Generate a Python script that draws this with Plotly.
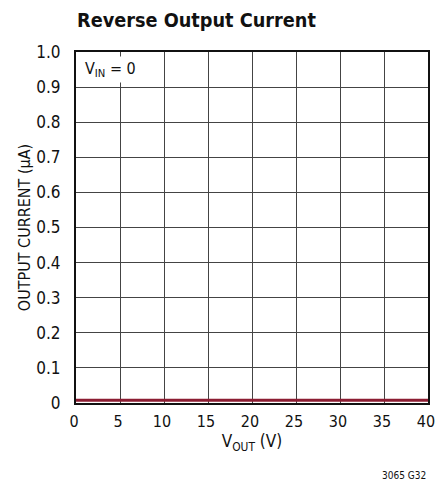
import plotly.graph_objects as go

vout = [0, 5, 10, 15, 20, 25, 30, 35, 40]
current_ua = [0.008, 0.008, 0.008, 0.008, 0.008, 0.008, 0.008, 0.008, 0.008]

x_ticks = [0, 5, 10, 15, 20, 25, 30, 35, 40]
y_ticks = [0, 0.1, 0.2, 0.3, 0.4, 0.5, 0.6, 0.7, 0.8, 0.9, 1.0]
y_ticktext = ["0", "0.1", "0.2", "0.3", "0.4", "0.5", "0.6", "0.7", "0.8", "0.9", "1.0"]

FONT = "DejaVu Sans Condensed, Liberation Sans Narrow, Roboto, sans-serif"

fig = go.Figure()
fig.add_trace(go.Scatter(x=vout, y=current_ua, mode="lines",
                         line=dict(color="#8c1c32", width=3), showlegend=False,
                         cliponaxis=False))

fig.update_layout(
    width=436, height=488,
    margin=dict(l=76, r=8, t=52, b=85),
    paper_bgcolor="white", plot_bgcolor="white",
    font=dict(family=FONT, size=17, color="#111"),
    xaxis=dict(range=[0, 40], tickvals=x_ticks, showgrid=True, gridcolor="#444",
               gridwidth=1, zeroline=False, showline=True, linecolor="#111",
               linewidth=2, mirror=True, ticks="", ticklabelstandoff=3,
               ticklabelshift=-2, tickfont=dict(size=16),
               ticklabeloverflow="allow", automargin=False,
               title=dict(text="V<sub>OUT</sub> (V)", standoff=4,
                          font=dict(family=FONT, size=17))),
    yaxis=dict(range=[0, 1.0], tickvals=y_ticks, ticktext=y_ticktext, showgrid=True,
               gridcolor="#444", gridwidth=1, zeroline=False, showline=True,
               linecolor="#111", linewidth=2, mirror=True, ticks="",
               ticklabelstandoff=10, automargin=False,
               title=dict(text="OUTPUT CURRENT (μA)", standoff=2,
                          font=dict(family=FONT, size=16))),
    annotations=[
        dict(text="<b>Reverse Output Current</b>", xref="paper", yref="paper",
             x=0, y=1, xshift=-1, yshift=18, xanchor="left", yanchor="bottom",
             showarrow=False, font=dict(family=FONT, size=19.7, color="#111")),
        dict(text="V<sub>IN</sub> = 0", xref="paper", yref="paper",
             x=0, y=1, xshift=6, yshift=-4, xanchor="left", yanchor="top",
             showarrow=False, bgcolor="white", borderpad=2,
             font=dict(family=FONT, size=16, color="#111")),
        dict(text="3065 G32", xref="paper", yref="paper",
             x=1, y=0, xshift=0, yshift=-80, xanchor="right", yanchor="bottom",
             showarrow=False, font=dict(family=FONT, size=10, color="#111")),
    ],
)

fig.write_html("out.html", config={"displayModeBar": False},
               post_script="document.body.style.margin='0';document.body.style.overflow='hidden';")
